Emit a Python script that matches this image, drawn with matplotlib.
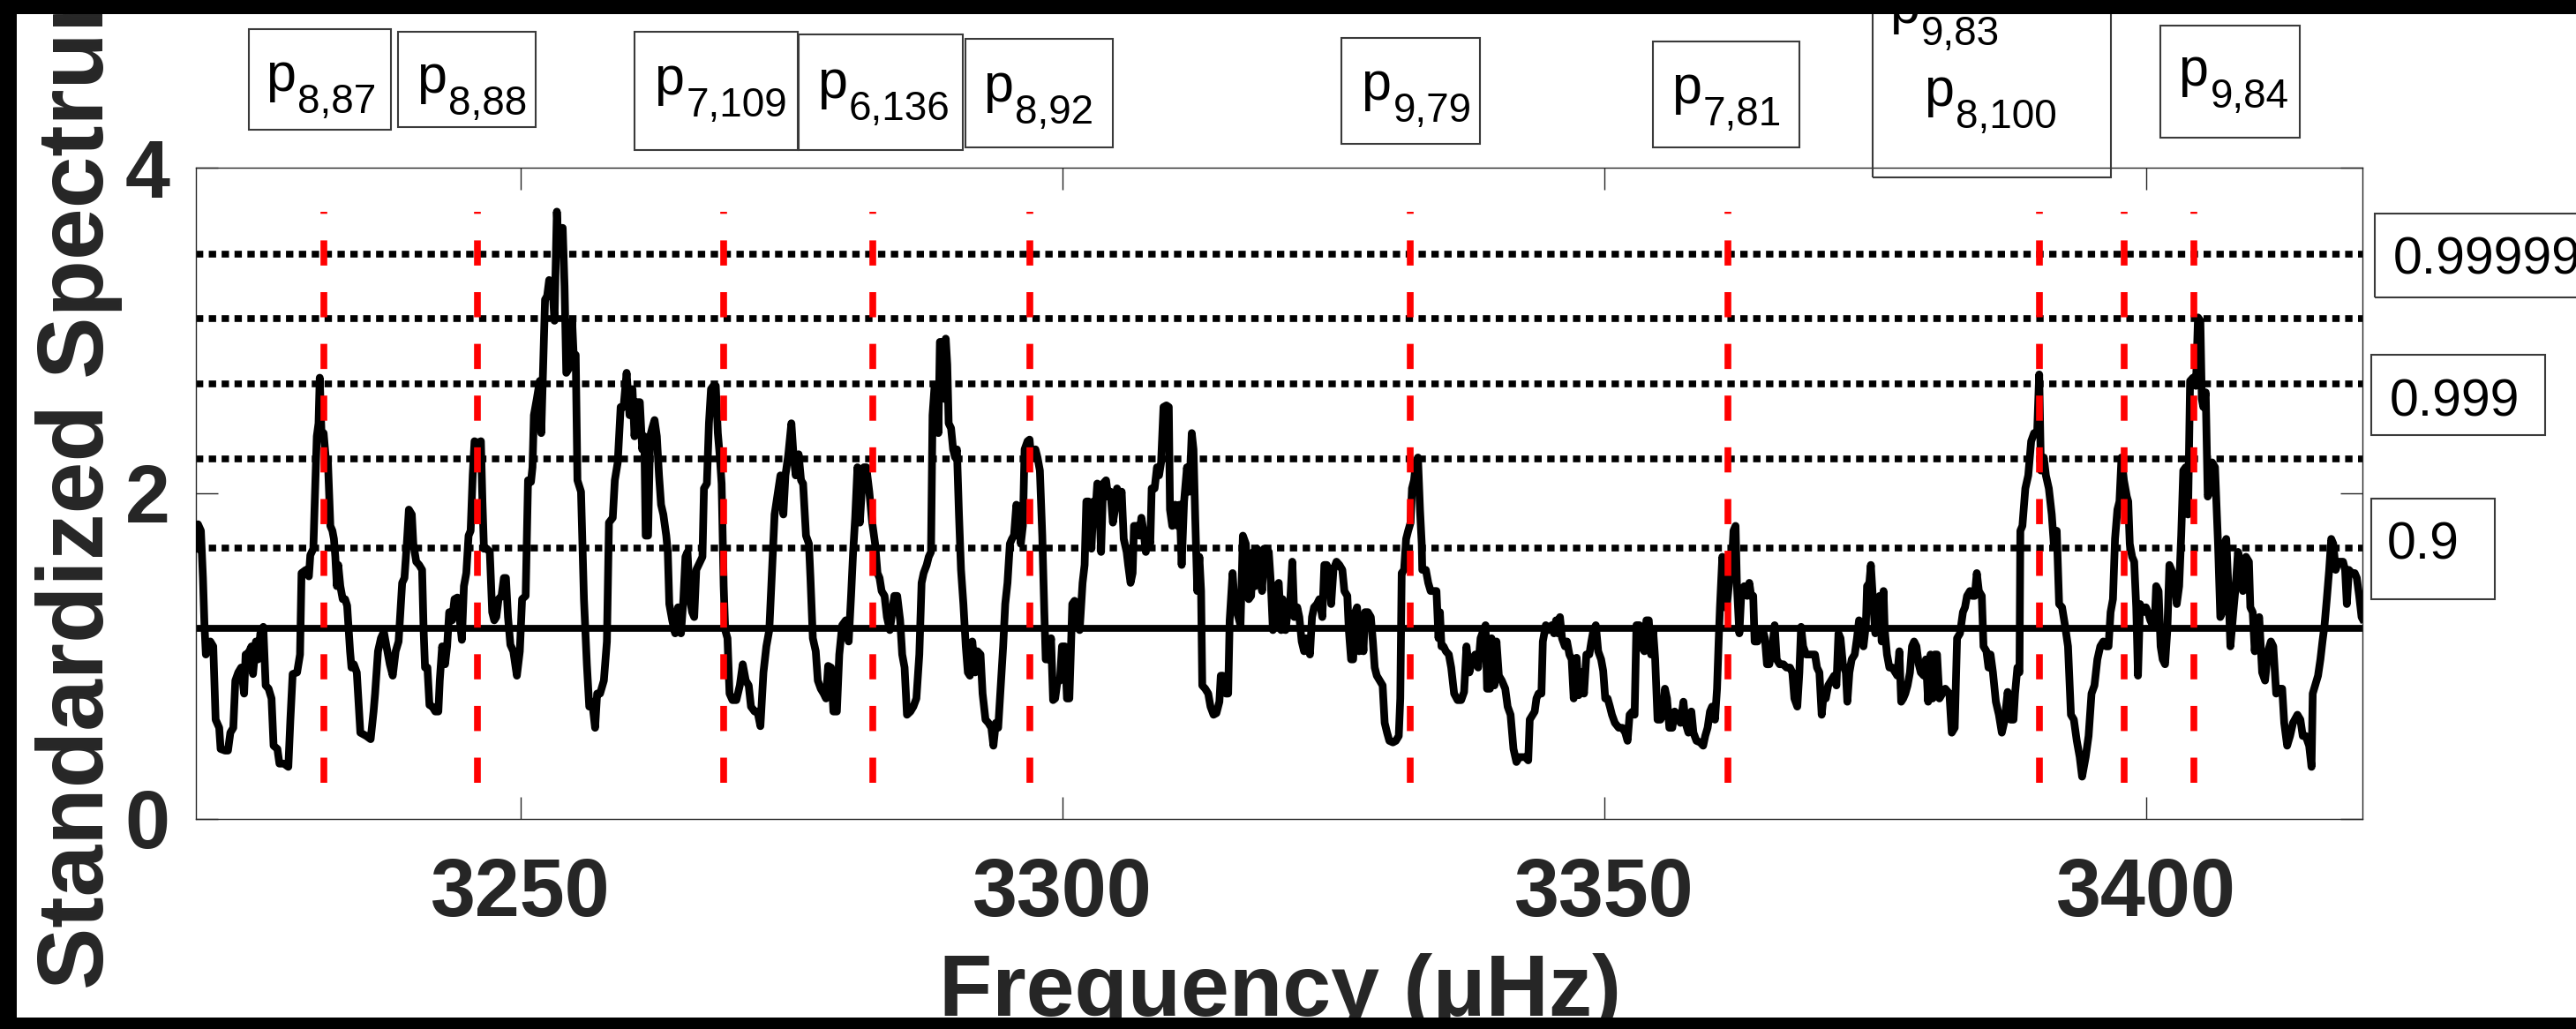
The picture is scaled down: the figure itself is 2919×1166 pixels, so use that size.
import matplotlib
matplotlib.use("Agg")
import matplotlib.pyplot as plt
from matplotlib.patches import Rectangle

plt.rcParams['font.family'] = ['Liberation Sans', 'DejaVu Sans']
plt.rcParams['lines.scale_dashes'] = False

W, H, DPI = 2919, 1166, 100
DARK = '#262626'

# ---------------- data ----------------
freq_a = [3220.00, 3220.19, 3220.46, 3220.65, 3220.79, 3220.92, 3221.11, 3221.33, 3221.60, 3221.82,
          3222.15, 3222.28, 3222.69, 3222.96, 3223.18, 3223.45, 3223.64, 3223.91, 3224.18, 3224.45,
          3224.59, 3224.86, 3225.13, 3225.27, 3225.54, 3225.73, 3225.95, 3226.22, 3226.44, 3226.71,
          3226.98, 3227.17, 3227.52, 3227.71, 3228.12, 3228.53, 3228.72, 3228.93, 3229.34, 3229.61,
          3229.75, 3230.16, 3230.43, 3230.56, 3230.84, 3230.97, 3231.16, 3231.32, 3231.43, 3231.60,
          3231.79, 3231.98, 3232.19, 3232.41, 3232.60, 3232.74, 3232.87, 3233.01, 3233.14, 3233.33,
          3233.55, 3233.77, 3233.96, 3234.23, 3234.36, 3234.58, 3234.85, 3235.18, 3235.72, 3236.13,
          3236.40, 3236.54, 3236.81, 3237.08, 3237.35, 3237.62, 3237.90, 3238.17, 3238.44, 3238.71,
          3239.04, 3239.25, 3239.47, 3239.66, 3239.93, 3240.07, 3240.34, 3240.61, 3240.88, 3241.02,
          3241.15, 3241.37, 3241.56, 3241.83, 3242.10, 3242.38, 3242.51, 3242.73, 3243.00, 3243.19,
          3243.38, 3243.65, 3243.87, 3244.14, 3244.36, 3244.55, 3244.74, 3244.96, 3245.17, 3245.36,
          3245.55, 3245.72, 3245.99, 3246.31, 3246.45, 3246.59, 3246.86, 3247.13, 3247.35, 3247.54,
          3247.73, 3247.94, 3248.21, 3248.43, 3248.62, 3248.81, 3249.03, 3249.30, 3249.63, 3249.90,
          3250.11, 3250.44, 3250.66, 3250.93, 3251.07, 3251.20, 3251.47, 3251.74, 3251.88, 3252.02,
          3252.23, 3252.42, 3252.61, 3252.89, 3253.10, 3253.32, 3253.51, 3253.70, 3253.86, 3254.03,
          3254.19, 3254.46, 3254.73, 3254.87, 3255.06, 3255.22, 3255.55, 3255.82, 3256.09, 3256.31,
          3256.58, 3256.85, 3257.04, 3257.31, 3257.66, 3257.94, 3258.13, 3258.48, 3258.67, 3258.94,
          3259.21, 3259.48, 3259.76, 3260.03, 3260.30, 3260.49, 3260.71]
power_a = [1.66, 1.81, 1.77, 1.48, 1.19, 1.01, 1.06, 1.09, 1.06, 0.61,
           0.56, 0.43, 0.42, 0.42, 0.53, 0.56, 0.85, 0.90, 0.93, 0.77,
           1.01, 1.02, 1.06, 0.89, 1.09, 0.98, 1.14, 1.18, 0.82, 0.80,
           0.74, 0.45, 0.43, 0.34, 0.34, 0.32, 0.61, 0.89, 0.90, 1.01,
           1.51, 1.53, 1.49, 1.62, 1.66, 1.95, 2.35, 2.43, 2.71, 2.35,
           2.37, 2.22, 2.19, 1.80, 1.77, 1.72, 1.61, 1.43, 1.56, 1.43,
           1.35, 1.35, 1.31, 1.03, 0.93, 0.95, 0.90, 0.53, 0.51, 0.49,
           0.66, 0.77, 1.03, 1.11, 1.15, 1.05, 0.95, 0.88, 1.03, 1.09,
           1.45, 1.48, 1.69, 1.90, 1.87, 1.69, 1.58, 1.56, 1.53, 1.16,
           0.93, 0.93, 0.70, 0.69, 0.66, 0.66, 0.85, 1.06, 0.95, 1.06,
           1.27, 1.22, 1.35, 1.36, 1.22, 1.10, 1.43, 1.51, 1.74, 1.77,
           2.11, 2.32, 2.31, 2.32, 1.95, 1.66, 1.66, 1.64, 1.27, 1.22,
           1.24, 1.35, 1.37, 1.48, 1.48, 1.24, 1.07, 1.03, 0.88, 1.03,
           1.35, 1.37, 2.08, 2.07, 2.16, 2.48, 2.58, 2.69, 2.37, 2.69,
           3.19, 3.21, 3.31, 3.29, 3.06, 3.73, 3.48, 3.63, 3.63, 3.27,
           2.74, 2.77, 3.06, 2.85, 2.85, 2.08, 2.01, 1.35, 0.95, 0.69,
           0.72, 0.56, 0.77, 0.77, 0.85, 1.09, 1.82, 1.85, 2.08, 2.19,
           2.53, 2.53, 2.74, 2.48, 2.64, 2.35, 2.56]

freq_b = [3260.98, 3261.20, 3261.39, 3261.52, 3261.74, 3261.93, 3262.12, 3262.34, 3262.55, 3262.75,
          3262.94, 3263.15, 3263.42, 3263.56, 3263.70, 3263.97, 3264.24, 3264.51, 3264.78, 3265.00,
          3265.19, 3265.38, 3265.60, 3265.81, 3266.00, 3266.19, 3266.55, 3266.76, 3266.90, 3267.17,
          3267.36, 3267.55, 3267.77, 3267.99, 3268.18, 3268.37, 3268.53, 3268.72, 3268.86, 3269.07,
          3269.26, 3269.53, 3269.89, 3270.21, 3270.48, 3270.76, 3271.03, 3271.24, 3271.57, 3271.84,
          3272.11, 3272.39, 3272.66, 3272.93, 3273.15, 3273.42, 3273.74, 3273.96, 3274.23, 3274.42,
          3274.69, 3274.97, 3275.16, 3275.37, 3275.64, 3275.86, 3276.05, 3276.32, 3276.59, 3276.73,
          3276.95, 3277.22, 3277.41, 3277.68, 3277.95, 3278.17, 3278.36, 3278.63, 3278.85, 3279.17,
          3279.39, 3279.66, 3279.99, 3280.26, 3280.48, 3280.67, 3280.86, 3281.07, 3281.29, 3281.48,
          3281.67, 3281.89, 3282.16, 3282.43, 3282.70, 3282.92, 3283.11, 3283.30, 3283.57, 3283.79,
          3284.06, 3284.28, 3284.47, 3284.74, 3285.01, 3285.20, 3285.42, 3285.64, 3285.96, 3286.23,
          3286.51, 3286.78, 3286.99, 3287.18, 3287.46, 3287.65, 3287.86, 3288.00, 3288.19, 3288.41,
          3288.54, 3288.68, 3288.95, 3289.09, 3289.22, 3289.36, 3289.49, 3289.71, 3289.90, 3290.09,
          3290.25, 3290.44, 3290.63, 3290.85, 3291.07, 3291.26, 3291.45, 3291.67, 3291.94, 3292.15,
          3292.43, 3292.62, 3292.89, 3293.16, 3293.43, 3293.62, 3293.84, 3294.06, 3294.25, 3294.52,
          3294.71, 3294.92, 3295.14, 3295.33, 3295.52, 3295.74, 3295.96, 3296.15, 3296.34, 3296.50,
          3296.77, 3296.96, 3297.10, 3297.31, 3297.50, 3297.69, 3297.91, 3298.13, 3298.32, 3298.45,
          3298.73, 3298.94, 3299.13, 3299.32, 3299.54, 3299.76, 3299.95, 3300.22, 3300.41, 3300.63,
          3300.76, 3300.90, 3301.11, 3301.30, 3301.58, 3301.85, 3302.04, 3302.20, 3302.39]
power_b = [2.56, 2.27, 2.35, 1.74, 1.74, 2.35, 2.40, 2.45, 2.35, 2.11,
           1.93, 1.87, 1.74, 1.64, 1.32, 1.22, 1.14, 1.30, 1.14, 1.35,
           1.61, 1.64, 1.35, 1.27, 1.24, 1.53, 1.58, 1.61, 2.03, 2.06,
           2.43, 2.64, 2.66, 2.66, 2.37, 2.22, 2.06, 1.43, 1.16, 1.11,
           0.77, 0.73, 0.73, 0.82, 0.95, 0.85, 0.82, 0.69, 0.66, 0.66,
           0.57, 0.90, 1.06, 1.16, 1.48, 1.87, 2.01, 2.11, 1.87, 2.11,
           2.24, 2.43, 2.24, 2.11, 2.24, 2.08, 2.06, 1.74, 1.69, 1.48,
           1.11, 1.03, 0.85, 0.80, 0.77, 0.74, 0.94, 0.93, 0.66, 0.66,
           1.01, 1.19, 1.22, 1.09, 1.37, 1.64, 1.85, 2.16, 1.82, 2.03,
           2.16, 2.16, 2.01, 1.82, 1.69, 1.51, 1.48, 1.40, 1.37, 1.24,
           1.16, 1.27, 1.37, 1.37, 1.22, 1.01, 0.93, 0.64, 0.66, 0.69,
           0.74, 1.01, 1.45, 1.51, 1.56, 1.61, 1.64, 2.48, 2.66, 2.58,
           2.37, 2.93, 2.93, 2.58, 2.95, 2.79, 2.43, 2.40, 2.27, 2.22,
           2.27, 1.87, 1.53, 1.32, 1.06, 0.90, 0.88, 1.09, 0.90, 1.03,
           1.01, 0.77, 0.61, 0.59, 0.56, 0.45, 0.59, 0.56, 0.77, 1.06,
           1.32, 1.45, 1.69, 1.72, 1.74, 1.93, 1.85, 1.69, 1.80, 2.27,
           2.32, 2.33, 2.22, 2.22, 2.27, 2.22, 2.14, 1.74, 1.27, 0.98,
           0.98, 1.11, 0.73, 0.74, 0.85, 0.85, 1.06, 1.06, 0.74, 0.74,
           1.01, 1.32, 1.34, 1.27, 1.16, 1.45, 1.56, 1.95, 1.95]

freq_c = [3302.53, 3302.67, 3302.86, 3303.02, 3303.21, 3303.34, 3303.56, 3303.75, 3304.02, 3304.21,
          3304.43, 3304.65, 3304.84, 3305.03, 3305.25, 3305.46, 3305.65, 3305.92, 3306.06, 3306.28,
          3306.47, 3306.60, 3306.87, 3307.09, 3307.28, 3307.47, 3307.69, 3307.91, 3308.10, 3308.23,
          3308.50, 3308.72, 3308.91, 3309.10, 3309.32, 3309.59, 3309.81, 3309.92, 3310.13, 3310.40,
          3310.62, 3310.81, 3311.00, 3311.22, 3311.49, 3311.71, 3311.93, 3312.09, 3312.25, 3312.44,
          3312.63, 3312.79, 3312.90, 3313.17, 3313.45, 3313.66, 3313.94, 3314.21, 3314.48, 3314.61,
          3314.80, 3315.08, 3315.29, 3315.43, 3315.70, 3315.89, 3316.11, 3316.43, 3316.65, 3316.92,
          3317.19, 3317.41, 3317.60, 3317.79, 3317.95, 3318.14, 3318.42, 3318.61, 3318.82, 3319.04,
          3319.23, 3319.42, 3319.58, 3319.77, 3319.96, 3320.18, 3320.32, 3320.59, 3320.78, 3320.99,
          3321.21, 3321.40, 3321.67, 3321.86, 3322.08, 3322.30, 3322.49, 3322.68, 3322.84, 3323.03,
          3323.22, 3323.49, 3323.71, 3323.98, 3324.17, 3324.39, 3324.58, 3324.80, 3325.01, 3325.29,
          3325.56, 3325.83, 3326.02, 3326.29, 3326.43, 3326.64, 3326.83, 3327.02, 3327.19, 3327.38,
          3327.57, 3327.78, 3327.92, 3328.19, 3328.46, 3328.65, 3328.82, 3329.01, 3329.28, 3329.55,
          3329.74, 3329.96, 3330.17, 3330.50, 3330.77, 3331.04, 3331.18, 3331.31, 3331.53, 3331.72,
          3331.91, 3332.13, 3332.26, 3332.45, 3332.62, 3332.81, 3333.00, 3333.16, 3333.21, 3333.54,
          3333.76, 3333.98, 3334.25, 3334.52, 3334.71, 3334.84, 3334.98, 3335.17, 3335.39, 3335.66,
          3335.88, 3336.15, 3336.47, 3336.80, 3337.07, 3337.29, 3337.56, 3337.83, 3338.10, 3338.37,
          3338.59, 3338.86, 3339.05, 3339.19, 3339.46, 3339.60, 3339.87, 3340.06, 3340.28, 3340.55,
          3340.87, 3341.09, 3341.36, 3341.63, 3341.90, 3342.18, 3342.45, 3342.72, 3342.99, 3343.13,
          3343.40, 3343.59, 3343.75, 3343.94]
power_c = [1.87, 1.66, 1.95, 1.87, 2.06, 2.01, 1.64, 2.06, 2.08, 1.98,
           2.01, 1.82, 1.90, 2.03, 1.95, 2.01, 1.72, 1.64, 1.56, 1.45,
           1.51, 1.80, 1.80, 1.74, 1.85, 1.77, 1.64, 1.74, 1.69, 2.03,
           2.03, 2.16, 2.11, 2.19, 2.53, 2.54, 2.53, 1.90, 1.80, 1.93,
           1.80, 1.93, 1.56, 1.95, 2.16, 2.01, 2.37, 2.27, 1.85, 1.40,
           1.61, 1.40, 0.82, 0.80, 0.77, 0.69, 0.64, 0.65, 0.72, 0.88,
           0.88, 0.77, 0.77, 1.22, 1.51, 1.32, 1.27, 1.19, 1.74, 1.69,
           1.35, 1.37, 1.64, 1.43, 1.66, 1.64, 1.40, 1.66, 1.66, 1.64,
           1.45, 1.16, 1.24, 1.43, 1.45, 1.16, 1.35, 1.16, 1.27, 1.30,
           1.58, 1.24, 1.30, 1.24, 1.09, 1.03, 1.11, 1.06, 1.01, 1.24,
           1.30, 1.32, 1.35, 1.24, 1.56, 1.56, 1.53, 1.32, 1.53, 1.58,
           1.56, 1.53, 1.40, 1.37, 1.16, 0.98, 0.98, 1.27, 1.30, 1.03,
           1.24, 1.03, 1.27, 1.27, 1.24, 1.09, 0.93, 0.88, 0.85, 0.82,
           0.59, 0.53, 0.48, 0.47, 0.48, 0.51, 0.74, 1.51, 1.53, 1.72,
           1.77, 1.82, 2.03, 2.08, 2.19, 2.22, 1.90, 1.69, 1.53, 1.53,
           1.45, 1.40, 1.40, 1.40, 1.11, 1.27, 1.06, 1.06, 1.03, 1.01,
           0.93, 0.77, 0.73, 0.73, 0.78, 1.06, 0.90, 0.98, 1.01, 0.93,
           1.11, 1.16, 1.19, 0.80, 0.80, 1.11, 0.82, 1.09, 0.88, 0.85,
           0.80, 0.69, 0.64, 0.43, 0.35, 0.38, 0.38, 0.38, 0.36, 0.61,
           0.64, 0.66, 0.74, 0.77]

freq_d = [3344.21, 3344.34, 3344.61, 3344.88, 3345.16, 3345.37, 3345.56, 3345.75, 3345.92, 3346.11,
          3346.38, 3346.57, 3346.79, 3347.00, 3347.19, 3347.46, 3347.65, 3347.87, 3348.14, 3348.36,
          3348.63, 3348.82, 3349.01, 3349.23, 3349.45, 3349.72, 3349.91, 3350.10, 3350.32, 3350.53,
          3350.72, 3350.99, 3351.35, 3351.67, 3351.95, 3352.16, 3352.35, 3352.62, 3352.81, 3352.98,
          3353.25, 3353.44, 3353.71, 3353.90, 3354.12, 3354.33, 3354.52, 3354.71, 3354.93, 3355.20,
          3355.42, 3355.61, 3355.80, 3356.02, 3356.29, 3356.51, 3356.78, 3357.05, 3357.32, 3357.51,
          3357.78, 3358.05, 3358.24, 3358.52, 3358.87, 3359.14, 3359.33, 3359.55, 3359.77, 3359.96,
          3360.23, 3360.42, 3360.58, 3360.69, 3360.91, 3361.12, 3361.31, 3361.58, 3361.72, 3361.94,
          3362.13, 3362.26, 3362.48, 3362.67, 3362.94, 3363.21, 3363.40, 3363.57, 3363.76, 3363.89,
          3364.16, 3364.44, 3364.65, 3364.84, 3365.03, 3365.25, 3365.52, 3365.74, 3365.93, 3366.20,
          3366.55, 3366.83, 3367.15, 3367.37, 3367.56, 3367.83, 3368.02, 3368.18, 3368.37, 3368.64,
          3368.92, 3369.19, 3369.46, 3369.65, 3369.87, 3370.08, 3370.27, 3370.46, 3370.68, 3370.95,
          3371.23, 3371.44, 3371.63, 3371.82, 3372.04, 3372.31, 3372.45, 3372.64, 3372.85, 3373.13,
          3373.34, 3373.53, 3373.72, 3373.94, 3374.16, 3374.27, 3374.48, 3374.62, 3374.81, 3375.03,
          3375.24, 3375.43, 3375.62, 3375.79, 3375.90, 3376.11, 3376.33, 3376.60, 3376.87, 3377.06,
          3377.25, 3377.42, 3377.61, 3377.80, 3378.01, 3378.23, 3378.42, 3378.61, 3378.83, 3379.04,
          3379.23, 3379.51, 3379.70, 3379.91, 3380.13, 3380.32, 3380.51, 3380.73, 3380.95, 3381.22,
          3381.49]
power_d = [0.77, 1.09, 1.19, 1.16, 1.19, 1.14, 1.22, 1.14, 1.24, 1.11,
           1.06, 1.09, 1.01, 0.98, 0.74, 0.99, 0.76, 0.90, 0.77, 1.01,
           1.01, 1.09, 1.16, 1.19, 1.03, 0.98, 0.91, 0.74, 0.74, 0.69,
           0.64, 0.59, 0.56, 0.56, 0.53, 0.48, 0.64, 0.66, 0.64, 1.19,
           1.19, 1.06, 1.03, 1.22, 1.22, 1.01, 1.16, 0.98, 0.61, 0.61,
           0.64, 0.80, 0.74, 0.56, 0.56, 0.66, 0.64, 0.59, 0.72, 0.59,
           0.53, 0.66, 0.53, 0.48, 0.47, 0.45, 0.51, 0.56, 0.66, 0.69,
           0.61, 0.80, 1.11, 1.30, 1.61, 1.30, 1.30, 1.48, 1.48, 1.77,
           1.80, 1.43, 1.14, 1.40, 1.43, 1.37, 1.45, 1.37, 1.37, 1.09,
           1.09, 1.16, 1.16, 1.11, 0.95, 0.95, 1.06, 1.19, 0.98, 0.95,
           0.95, 0.93, 0.93, 0.90, 0.74, 0.69, 0.90, 1.18, 1.06, 1.01,
           1.01, 1.01, 1.01, 0.93, 0.90, 0.64, 0.77, 0.74, 0.82, 0.85,
           0.88, 0.82, 1.14, 1.11, 0.95, 0.90, 0.72, 0.90, 0.98, 1.01,
           1.11, 1.22, 1.19, 1.06, 1.19, 1.43, 1.45, 1.56, 1.35, 1.14,
           1.19, 1.37, 1.09, 1.40, 1.16, 1.01, 0.93, 0.93, 0.90, 0.88,
           1.03, 0.72, 0.74, 0.77, 0.82, 0.90, 1.06, 1.09, 1.06, 0.95,
           0.90, 0.88, 0.98, 0.72, 1.01, 0.74, 1.01, 1.01, 0.74, 0.77,
           0.80]

freq_e = [3381.87, 3382.09, 3382.36, 3382.58, 3382.85, 3383.12, 3383.31, 3383.50, 3383.77, 3383.99,
          3384.21, 3384.40, 3384.59, 3384.86, 3385.02, 3385.29, 3385.48, 3385.67, 3385.89, 3386.16,
          3386.44, 3386.71, 3386.98, 3387.25, 3387.52, 3387.79, 3387.93, 3388.15, 3388.34, 3388.42,
          3388.61, 3388.88, 3389.15, 3389.42, 3389.69, 3389.97, 3390.16, 3390.32, 3390.59, 3390.78,
          3391.05, 3391.32, 3391.51, 3391.78, 3392.00, 3392.27, 3392.54, 3392.82, 3393.09, 3393.36,
          3393.63, 3393.90, 3394.12, 3394.45, 3394.72, 3394.99, 3395.26, 3395.53, 3395.80, 3396.08,
          3396.35, 3396.56, 3396.75, 3396.97, 3397.16, 3397.38, 3397.57, 3397.76, 3397.98, 3398.25,
          3398.38, 3398.52, 3398.74, 3398.93, 3399.12, 3399.28, 3399.47, 3399.74, 3400.01, 3400.20,
          3400.42, 3400.64, 3400.83, 3400.96, 3401.18, 3401.37, 3401.56, 3401.78, 3401.99, 3402.18,
          3402.37, 3402.65, 3402.86, 3403.08, 3403.27, 3403.46, 3403.68, 3403.90, 3404.09, 3404.36,
          3404.63, 3404.82, 3405.04, 3405.17, 3405.31, 3405.53, 3405.72, 3405.91, 3406.12, 3406.39,
          3406.67, 3406.88, 3407.07, 3407.26, 3407.43, 3407.62, 3407.81, 3408.08, 3408.30, 3408.51,
          3408.78, 3408.97, 3409.25, 3409.52, 3409.65, 3409.87, 3410.06, 3410.25, 3410.47, 3410.74,
          3411.01, 3411.28, 3411.55, 3411.77, 3412.04, 3412.37, 3412.59, 3412.78, 3413.05, 3413.32,
          3413.59, 3414.00, 3414.27, 3414.49, 3414.76, 3415.08, 3415.30, 3415.41, 3415.63, 3415.90,
          3416.12, 3416.31, 3416.50, 3416.71, 3416.93, 3417.12, 3417.31, 3417.53, 3417.75, 3418.02,
          3418.21, 3418.40, 3418.56, 3418.75, 3419.02, 3419.29, 3419.48, 3419.70, 3419.92, 3420.00]
power_e = [0.77, 0.53, 0.56, 1.11, 1.14, 1.27, 1.30, 1.37, 1.40, 1.37,
           1.37, 1.51, 1.40, 1.37, 1.06, 1.03, 0.93, 1.01, 0.90, 0.72,
           0.64, 0.53, 0.61, 0.78, 0.61, 0.61, 0.77, 0.93, 0.90, 1.77,
           1.80, 2.03, 2.11, 2.32, 2.37, 2.37, 2.73, 2.14, 2.22, 2.11,
           2.03, 1.87, 1.69, 1.77, 1.32, 1.30, 1.19, 1.06, 0.64, 0.61,
           0.48, 0.38, 0.26, 0.38, 0.51, 0.77, 0.82, 0.98, 1.06, 1.09,
           1.06, 1.06, 1.27, 1.35, 1.72, 1.90, 1.95, 2.22, 2.08, 1.98,
           1.95, 1.69, 1.61, 1.58, 1.30, 0.88, 1.32, 1.27, 1.30, 1.27,
           1.22, 1.19, 1.22, 1.43, 1.40, 1.06, 0.98, 0.95, 1.16, 1.56,
           1.53, 1.48, 1.32, 1.43, 1.74, 2.14, 2.16, 1.87, 2.69, 2.71,
           2.66, 3.08, 3.06, 2.58, 2.53, 2.62, 1.98, 2.01, 2.19, 2.16,
           1.69, 1.24, 1.27, 1.69, 1.72, 1.43, 1.06, 1.27, 1.43, 1.64,
           1.56, 1.40, 1.61, 1.58, 1.30, 1.27, 1.03, 1.19, 1.24, 0.90,
           0.85, 1.03, 1.09, 1.06, 0.77, 0.80, 0.80, 0.59, 0.45, 0.51,
           0.59, 0.64, 0.61, 0.51, 0.51, 0.45, 0.32, 0.77, 0.82, 0.88,
           0.98, 1.09, 1.19, 1.35, 1.53, 1.72, 1.69, 1.53, 1.58, 1.58,
           1.58, 1.53, 1.32, 1.53, 1.51, 1.51, 1.48, 1.37, 1.24, 1.23]

threshold_levels = [1.665, 2.21, 2.67, 3.075, 3.47]   # dotted significance lines
mean_level = 1.17                                       # solid line
mode_freqs = [3231.8, 3246.0, 3268.7, 3282.5, 3297.0, 3332.1, 3361.45, 3390.2, 3398.0, 3404.4]
box_labels = [['8,87'], ['8,88'], ['7,109'], ['6,136'], ['8,92'], ['9,79'], ['7,81'],
              ['9,83', '8,100'], ['9,84']]
conf_labels = ['0.99999', '0.999', '0.9']
xticks = [3250, 3300, 3350, 3400]
yticks = [0, 2, 4]
xlim = (3220, 3420)
ylim = (0, 4)

freq = freq_a + freq_b + freq_c + freq_d + freq_e
power = power_a + power_b + power_c + power_d + power_e
assert len(freq) == len(power)

# ---------------- figure ----------------
fig = plt.figure(figsize=(W / DPI, H / DPI), dpi=DPI, facecolor='white')


def fx(x):
    return x / W


def fy(y):
    return 1 - y / H


ax_l, ax_r, ax_t, ax_b = 222, 2677, 190, 928
ax = fig.add_axes([fx(ax_l), fy(ax_b), (ax_r - ax_l) / W, (ax_b - ax_t) / H])
ax.set_facecolor('white')

ax.plot(freq, power, color='black', lw=6.3, zorder=3)
for lev in threshold_levels:
    ax.plot(list(xlim), [lev, lev], color='black', lw=5.5, dashes=(6.0, 4.5),
            dash_capstyle='butt', zorder=2)
ax.plot(list(xlim), [mean_level, mean_level], color='black', lw=5.6, zorder=2)
for f in mode_freqs:
    ax.plot([f, f], [0.22, 3.73], color=(1, 0, 0), lw=5.5, dashes=(20.5, 21.7),
            dash_capstyle='butt', zorder=4)

ax.set_xlim(*xlim)
ax.set_ylim(*ylim)
ax.set_xticks(xticks)
ax.set_yticks(yticks)
for sp in ax.spines.values():
    sp.set_color(DARK)
    sp.set_linewidth(1.0)
ax.tick_params(direction='in', length=18, width=1.0, color=DARK, top=True, right=True,
               labelsize=66, labelcolor=DARK)
ax.tick_params(axis='x', pad=31)
ax.tick_params(axis='y', pad=21)
for lab in ax.get_xticklabels() + ax.get_yticklabels():
    lab.set_fontweight('bold')

# axis labels (partly cut by the black frame, as in the reference crop)
fig.text(fx(117), fy(1121), 'Standardized Spectrum', rotation=90, rotation_mode='anchor',
         ha='left', va='baseline', fontsize=76, fontweight='bold', color=DARK)
fig.text(fx(1451), fy(1151), 'Frequency (μHz)', ha='center', va='baseline',
         fontsize=71, fontweight='bold', color=DARK)

# mode label boxes above the axes
box_rects = [(282, 32.5, 443, 146.6), (450.6, 36.4, 606.5, 143.5), (719.4, 36.4, 904, 170),
             (905, 39.4, 1090.6, 170.3), (1093.5, 44, 1261, 166.5), (1520, 43.2, 1677, 163),
             (1872.7, 47, 2039.3, 166.5), (2121.7, -20, 2392, 201), (2448, 28.7, 2606, 155.8)]
box_anchors = [[(301, 102.5)], [(471.6, 105)], [(741.4, 107)], [(926, 111)], [(1114.5, 115)],
               [(1542.4, 113)], [(1894, 117)], [(2141, 26), (2180, 120)], [(2468.5, 97)]]
SUB_DX, SUB_DY = 36, 25

for (x0, y0, x1, y1), labs, anchors in zip(box_rects, box_labels, box_anchors):
    fig.add_artist(Rectangle((fx(x0), fy(y1)), (x1 - x0) / W, (y1 - y0) / H,
                             transform=fig.transFigure, fill=False, edgecolor='#3a3a3a',
                             lw=1.5, zorder=5))
    for s, (tx, ty) in zip(labs, anchors):
        fig.text(fx(tx), fy(ty), 'p', ha='left', va='baseline', fontsize=44,
                 color='black', zorder=6)
        fig.text(fx(tx + SUB_DX), fy(ty + SUB_DY), s, ha='left', va='baseline', fontsize=33,
                 color='black', zorder=6)

# confidence level boxes on the right
conf_rects = [(2690.7, 241.6, 2960, 336.8), (2687, 401.5, 2884, 493), (2686.6, 565, 2826.7, 679)]
conf_anchors = [(2711.7, 311), (2708, 472), (2705, 634)]
for (x0, y0, x1, y1), s, (tx, ty) in zip(conf_rects, conf_labels, conf_anchors):
    fig.add_artist(Rectangle((fx(x0), fy(y1)), (x1 - x0) / W, (y1 - y0) / H,
                             transform=fig.transFigure, fill=False, edgecolor='#3a3a3a',
                             lw=1.5, zorder=5))
    fig.text(fx(tx), fy(ty), s, ha='left', va='baseline', fontsize=42.5, color='black', zorder=6)

# black frame around the cropped picture
for (x0, y0, x1, y1) in [(0, 0, W, 16), (0, 0, 19, H), (0, 1153, W, H)]:
    fig.add_artist(Rectangle((fx(x0), fy(y1)), (x1 - x0) / W, (y1 - y0) / H,
                             transform=fig.transFigure, facecolor='black', edgecolor='none',
                             zorder=100))

fig.savefig('out.png', dpi=DPI, facecolor='white')
